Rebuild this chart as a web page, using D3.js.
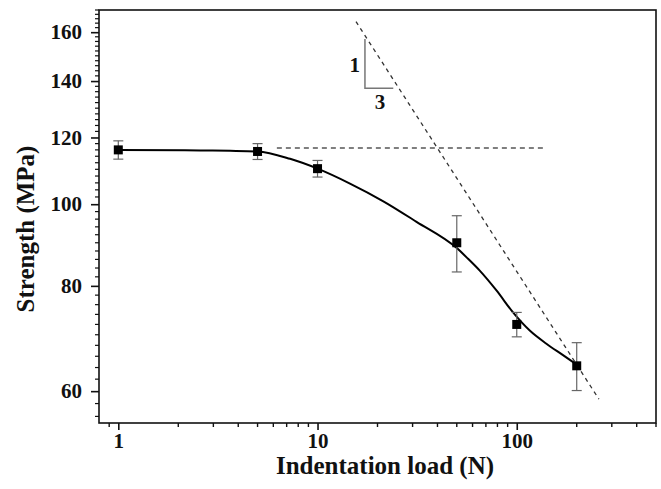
<!DOCTYPE html>
<html>
<head>
<meta charset="utf-8">
<script src="https://cdn.jsdelivr.net/npm/d3@7"></script>
<style>
  body { margin: 0; background: #fff; }
  svg { display: block; font-family: "Liberation Serif", "Times New Roman", serif; font-weight: bold; }
</style>
</head>
<body>
<svg id="chart" width="661" height="489"></svg>
<script>
// measured points (load in N, strength in MPa, +/- error)
const loads = [1, 5, 10, 50, 100, 200];
const strength = [116.0, 115.5, 110.2, 90.0, 72.0, 64.3];
const strengthErr = [2.9, 2.5, 2.5, 6.9, 2.4, 4.2];

// fitted curve
const fitLoad = [1, 2.58, 3.64, 5, 7.28, 10, 14.55, 21.4, 31.4, 50, 56.8, 65.2, 79.1, 95.8, 116.2, 140.9, 170.7, 200];
const fitStrength = [116.0, 115.8, 115.7, 115.5, 113.2, 110.2, 105.8, 100.8, 95.3, 88.7, 86.2, 83.4, 79.0, 74.4, 70.8, 68.3, 66.2, 64.5];

// guide lines
const plateauLoad = [6.25, 140];
const plateauStrength = [116.6, 116.6];
const slopeLoad = [15.6, 258.5];
const slopeStrength = [164.7, 58.7];
const triLoad = [17.3, 17.3, 24.0];
const triStrength = [157, 137.3, 137.3];

// ticks
const xTicks = [1, 10, 100];
const xMinor = [0.9, 2, 3, 4, 5, 6, 7, 8, 9, 20, 30, 40, 50, 60, 70, 80, 90, 200, 300, 400, 500];
const yTicks = [60, 80, 100, 120, 140, 160];
const yMinor = d3.range(56, 171, 2);

const svg = d3.select("#chart");
const margin = { left: 99, top: 10, right: 5, bottom: 66 };
const W = 661, H = 489;

const x = d3.scaleLog().domain([0.8, 500]).range([margin.left, W - margin.right]);
const y = d3.scaleLog().domain([55, 170]).range([H - margin.bottom, margin.top]);

const x0 = x.range()[0], x1 = x.range()[1];
const y0 = y.range()[0], y1 = y.range()[1];

// frame
svg.append("rect")
  .attr("x", x0).attr("y", y1)
  .attr("width", x1 - x0).attr("height", y0 - y1)
  .attr("fill", "none").attr("stroke", "#111").attr("stroke-width", 1.6);

// x axis
const gx = svg.append("g").attr("transform", `translate(0,${y0})`);
gx.call(d3.axisBottom(x).tickValues(xTicks).tickFormat(d3.format("d")).tickSize(7).tickPadding(3).tickSizeOuter(0));
gx.select(".domain").remove();
gx.selectAll(".tick line").attr("stroke", "#111").attr("stroke-width", 1.6);
gx.selectAll(".tick text").attr("font-size", 21).attr("font-family", "Liberation Serif").attr("font-weight", "bold").attr("fill", "#111");
gx.selectAll("line.minor").data(xMinor).enter().append("line")
  .attr("class", "minor")
  .attr("x1", d => x(d)).attr("x2", d => x(d))
  .attr("y1", 0).attr("y2", 4)
  .attr("stroke", "#111").attr("stroke-width", 1.4);

// y axis
const gy = svg.append("g").attr("transform", `translate(${x0},0)`);
gy.call(d3.axisLeft(y).tickValues(yTicks).tickFormat(d3.format("d")).tickSize(8).tickPadding(9).tickSizeOuter(0));
gy.select(".domain").remove();
gy.selectAll(".tick line").attr("stroke", "#111").attr("stroke-width", 1.6);
gy.selectAll(".tick text").attr("font-size", 21).attr("font-family", "Liberation Serif").attr("font-weight", "bold").attr("fill", "#111");
gy.selectAll("line.minor").data(yMinor.filter(d => yTicks.indexOf(d) < 0)).enter().append("line")
  .attr("class", "minor")
  .attr("x1", -4).attr("x2", 0)
  .attr("y1", d => y(d)).attr("y2", d => y(d))
  .attr("stroke", "#111").attr("stroke-width", 1.2);

// axis titles
svg.append("text")
  .attr("x", 385).attr("y", 474)
  .attr("text-anchor", "middle")
  .attr("font-size", 25).attr("fill", "#111")
  .text("Indentation load (N)");
svg.append("text")
  .attr("transform", "translate(34,229) rotate(-90)")
  .attr("text-anchor", "middle")
  .attr("font-size", 25).attr("fill", "#111")
  .text("Strength (MPa)");

const line = d3.line().x(d => x(d[0])).y(d => y(d[1]));

// dashed guides
svg.append("path")
  .attr("d", line(d3.zip(plateauLoad, plateauStrength)))
  .attr("fill", "none").attr("stroke", "#555").attr("stroke-width", 1.3)
  .attr("stroke-dasharray", "5,4");
svg.append("path")
  .attr("d", line(d3.zip(slopeLoad, slopeStrength)))
  .attr("fill", "none").attr("stroke", "#333").attr("stroke-width", 1.3)
  .attr("stroke-dasharray", "4,4");

// slope triangle
svg.append("path")
  .attr("d", line(d3.zip(triLoad, triStrength)))
  .attr("fill", "none").attr("stroke", "#777").attr("stroke-width", 1.5);
svg.append("text")
  .attr("x", x(triLoad[0]) - 5).attr("y", (y(triStrength[0]) + y(triStrength[1])) / 2 + 8)
  .attr("text-anchor", "end").attr("font-size", 21).attr("fill", "#111")
  .text("1");
svg.append("text")
  .attr("x", (x(triLoad[1]) + x(triLoad[2])) / 2 + 1).attr("y", y(triStrength[2]) + 21)
  .attr("text-anchor", "middle").attr("font-size", 21).attr("fill", "#111")
  .text("3");

// fitted curve
svg.append("path")
  .attr("d", line.curve(d3.curveMonotoneX)(d3.zip(fitLoad, fitStrength)))
  .attr("fill", "none").attr("stroke", "#000").attr("stroke-width", 2);

// error bars
const pts = d3.zip(loads, strength, strengthErr);
const eb = svg.append("g").attr("stroke", "#666").attr("stroke-width", 1.2);
pts.forEach(([l, s, e]) => {
  const cx = x(l);
  eb.append("line").attr("x1", cx).attr("x2", cx).attr("y1", y(s + e)).attr("y2", y(s - e));
  eb.append("line").attr("x1", cx - 5).attr("x2", cx + 5).attr("y1", y(s + e)).attr("y2", y(s + e));
  eb.append("line").attr("x1", cx - 5).attr("x2", cx + 5).attr("y1", y(s - e)).attr("y2", y(s - e));
});

// square markers
svg.append("g").selectAll("rect").data(pts).enter().append("rect")
  .attr("x", d => x(d[0]) - 4.5).attr("y", d => y(d[1]) - 4.5)
  .attr("width", 9).attr("height", 9)
  .attr("fill", "#000");
</script>
</body>
</html>
